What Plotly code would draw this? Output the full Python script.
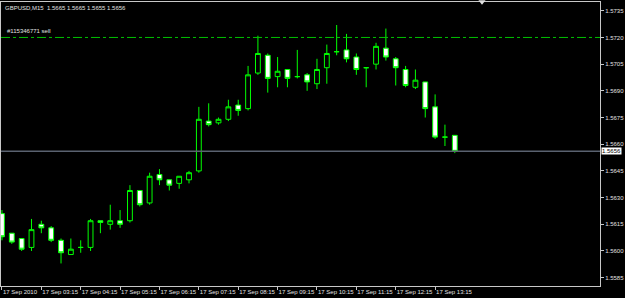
import plotly.graph_objects as go

# ---- data (GBPUSD M15, 17 Sep 2010, bars 02:15 .. 13:45) ----
bar_index = list(range(47))
opens  = [1.5621,1.5610,1.5607,1.5602,1.5615,1.5613,1.5606,1.5598,1.5602,1.5602,
          1.5617,1.5615,1.5617,1.5617,1.5634,1.5627,1.5643,1.5640,1.5638,1.5640,
          1.5645,1.5673,1.5672,1.5674,1.5682,1.5680,1.5700,1.5710,1.5698,1.5702,
          1.5698,1.5699,1.5694,1.5703,1.5712,1.5713,1.5709,1.5703,1.5705,1.5714,
          1.5708,1.5702,1.5692,1.5695,1.5681,1.5664,1.5665]
highs  = [1.5623,1.5610,1.5607,1.5618,1.5617,1.5614,1.5607,1.5607,1.5606,1.5618,
          1.5617,1.5626,1.5623,1.5637,1.5634,1.5644,1.5646,1.5640,1.5642,1.5645,
          1.5681,1.5683,1.5675,1.5685,1.5685,1.5704,1.5721,1.5711,1.5709,1.5702,
          1.5713,1.5700,1.5708,1.5716,1.5727,1.5722,1.5711,1.5703,1.5717,1.5725,
          1.5709,1.5704,1.5702,1.5695,1.5688,1.5671,1.5665]
lows   = [1.5606,1.5604,1.5600,1.5600,1.5610,1.5605,1.5593,1.5598,1.5599,1.5600,
          1.5610,1.5612,1.5613,1.5616,1.5625,1.5626,1.5637,1.5634,1.5635,1.5638,
          1.5644,1.5670,1.5671,1.5673,1.5676,1.5679,1.5699,1.5689,1.5692,1.5692,
          1.5697,1.5690,1.5691,1.5694,1.5710,1.5706,1.5699,1.5692,1.5702,1.5707,
          1.5693,1.5692,1.5691,1.5675,1.5663,1.5659,1.5655]
closes = [1.5608,1.5605,1.5601,1.5612,1.5613,1.5606,1.5599,1.5601,1.5602,1.5617,
          1.5616,1.5617,1.5615,1.5634,1.5626,1.5642,1.5640,1.5637,1.5642,1.5644,
          1.5674,1.5671,1.5674,1.5681,1.5679,1.5699,1.5711,1.5697,1.5701,1.5697,
          1.5698,1.5695,1.5702,1.5711,1.5712,1.5708,1.5702,1.5703,1.5715,1.5709,
          1.5703,1.5693,1.5696,1.5680,1.5664,1.5664,1.5656]

x_tick_pos = [0, 4, 8, 12, 16, 20, 24, 28, 32, 36, 40, 44]
x_tick_text = ["17 Sep 2010", "17 Sep 03:15", "17 Sep 04:15", "17 Sep 05:15",
               "17 Sep 06:15", "17 Sep 07:15", "17 Sep 08:15", "17 Sep 09:15",
               "17 Sep 10:15", "17 Sep 11:15", "17 Sep 12:15", "17 Sep 13:15"]
y_ticks = [1.5585, 1.5600, 1.5615, 1.5630, 1.5645, 1.5660, 1.5675,
           1.5690, 1.5705, 1.5720, 1.5735]

order_price = 1.5720
order_label = "#115346771 sell"
last_price = 1.5656
title_text = "GBPUSD,M15&nbsp;&nbsp;1.5665 1.5665 1.5655 1.5656"

GREEN = "#00ff00"
FRAME = "#c8c8c8"
FONT = "Liberation Sans"

fig = go.Figure()
fig.add_trace(go.Candlestick(
    x=bar_index, open=opens, high=highs, low=lows, close=closes,
    increasing=dict(line=dict(color=GREEN, width=1), fillcolor="#000000"),
    decreasing=dict(line=dict(color=GREEN, width=1), fillcolor="#ffffff"),
    whiskerwidth=0, showlegend=False, hoverinfo="skip",
))

fig.add_hline(y=last_price, line=dict(color="#5a6270", width=1.5))
fig.add_hline(y=order_price, line=dict(color="#00c000", width=1, dash="dashdot"))

fig.add_annotation(x=0.006, y=order_price, xref="paper", yref="y",
                   text=order_label, showarrow=False, xanchor="left", yanchor="bottom",
                   yshift=1, font=dict(family=FONT, size=6, color="#e0e0e0"))
fig.add_annotation(x=0.004, y=1.0, xref="paper", yref="paper",
                   text=title_text, showarrow=False, xanchor="left", yanchor="top",
                   yshift=-1, font=dict(family=FONT, size=6, color="#e0e0e0"))
fig.add_annotation(x=1.0, y=last_price, xref="paper", yref="y",
                   text=f"{last_price:.4f}", showarrow=False, xanchor="left", yanchor="middle",
                   xshift=1, bgcolor="#ffffff", borderpad=0,
                   font=dict(family=FONT, size=6, color="#000000"))

# shift marker triangle at top
fig.add_shape(type="path", xref="paper", yref="paper",
              path="M 0.797 1.006 L 0.809 1.006 L 0.803 0.99 Z",
              fillcolor="#e0e0e0", line=dict(width=0))

fig.update_layout(
    width=625, height=298,
    margin=dict(l=1, r=25, t=2, b=12, autoexpand=False),
    paper_bgcolor="#000000", plot_bgcolor="#000000",
    xaxis=dict(range=[-0.0975, 60.75], rangeslider=dict(visible=False),
               tickvals=x_tick_pos, ticktext=x_tick_text,
               ticklabelposition="outside right", tickangle=0,
               ticks="outside", ticklen=3, tickcolor=FRAME,
               showgrid=False, zeroline=False,
               showline=True, linecolor=FRAME, linewidth=1, mirror=True,
               tickfont=dict(family=FONT, size=6, color="#e0e0e0")),
    yaxis=dict(range=[1.558032, 1.573993], side="right",
               tickvals=y_ticks, ticktext=[f"{v:.4f}" for v in y_ticks],
               ticks="outside", ticklen=3, tickcolor=FRAME,
               showgrid=False, zeroline=False,
               showline=True, linecolor=FRAME, linewidth=1, mirror=True,
               tickfont=dict(family=FONT, size=6, color="#e0e0e0")),
)

fig.write_html("out.html")
